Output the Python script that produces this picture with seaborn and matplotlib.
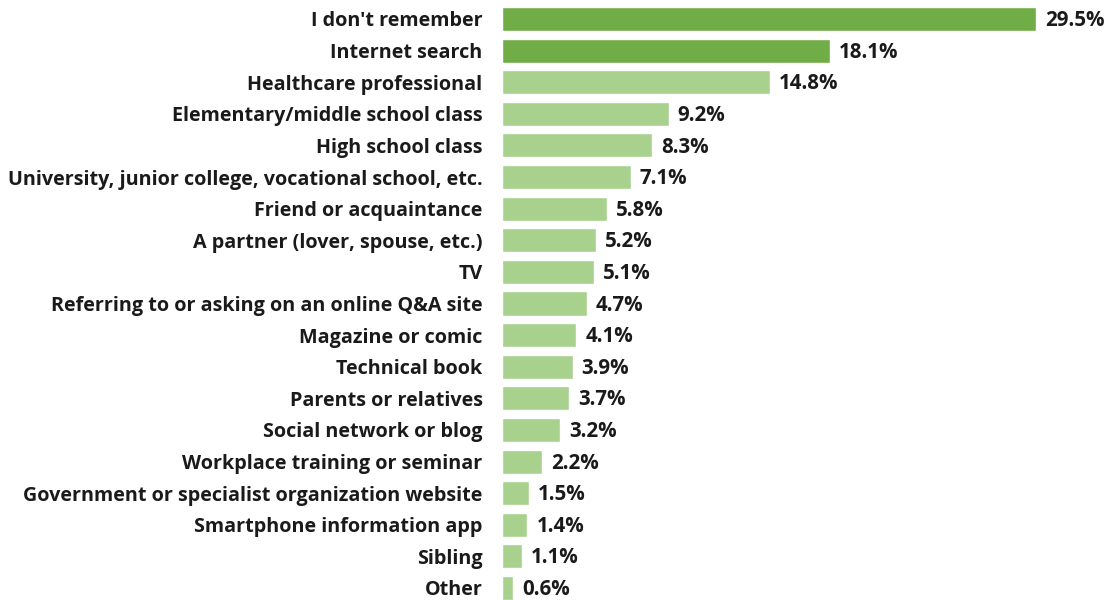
import matplotlib
matplotlib.use("Agg")
import matplotlib.pyplot as plt
import seaborn as sns
import pandas as pd

sources = [
    "I don't remember",
    "Internet search",
    "Healthcare professional",
    "Elementary/middle school class",
    "High school class",
    "University, junior college, vocational school, etc.",
    "Friend or acquaintance",
    "A partner (lover, spouse, etc.)",
    "TV",
    "Referring to or asking on an online Q&A site",
    "Magazine or comic",
    "Technical book",
    "Parents or relatives",
    "Social network or blog",
    "Workplace training or seminar",
    "Government or specialist organization website",
    "Smartphone information app",
    "Sibling",
    "Other",
]
shares = [29.5, 18.1, 14.8, 9.2, 8.3, 7.1, 5.8, 5.2, 5.1, 4.7, 4.1, 3.9, 3.7, 3.2, 2.2, 1.5, 1.4, 1.1, 0.6]
highlighted = 2  # top two answers drawn in the darker green

DARK = "#70AD47"
LIGHT = "#A9D18E"
LABEL_SIZE = 14.2
VALUE_SIZE = 14.8

sns.set_theme(style="white")
plt.rcParams["font.family"] = ["Open Sans", "DejaVu Sans"]

df = pd.DataFrame({"source": sources, "share": shares})
palette = {s: (DARK if i < highlighted else LIGHT) for i, s in enumerate(sources)}

W, H = 1117, 600
fig = plt.figure(figsize=(W / 100, H / 100), dpi=100)
left_px, right_px = 502, 1115
ax = fig.add_axes([left_px / W, 0, (right_px - left_px) / W, 1])

sns.barplot(data=df, x="share", y="source", hue="source", palette=palette,
            legend=False, width=0.76, ax=ax, saturation=1)

# 29.5% bar ends at ~1036 px
px_per_unit = (1036 - left_px) / max(shares)
ax.set_xlim(0, (right_px - left_px) / px_per_unit)
row_px, first_px = 31.61, 19
ax.set_ylim((H - first_px) / row_px, -first_px / row_px)

for i, v in enumerate(shares):
    ax.text(v + 9 / px_per_unit, i + 0.05, f"{v:.1f}%", va="center", ha="left",
            fontsize=VALUE_SIZE, fontweight="bold", color="#1a1a1a")

ax.set_xlabel("")
ax.set_ylabel("")
ax.set_xticks([])
ax.tick_params(axis="y", length=0, pad=14)
for lab in ax.get_yticklabels():
    lab.set_fontsize(LABEL_SIZE)
    lab.set_fontweight("bold")
    lab.set_color("#1a1a1a")
for sp in ax.spines.values():
    sp.set_visible(False)

fig.savefig("out.png", dpi=100, facecolor="white")
